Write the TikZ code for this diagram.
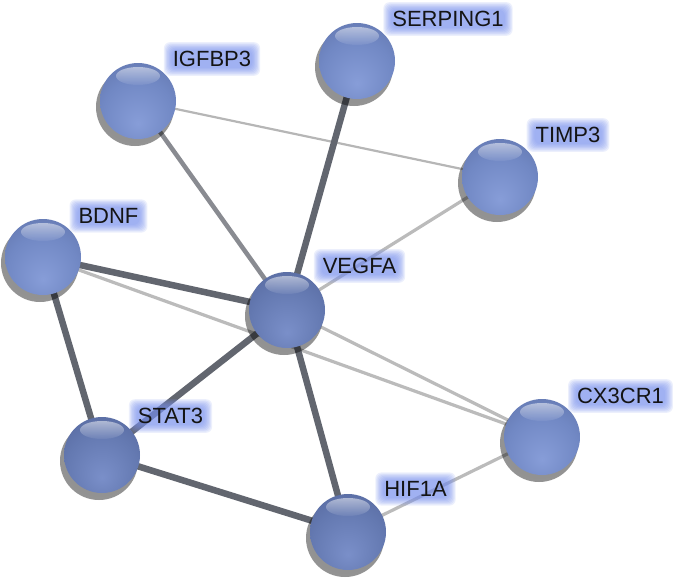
\documentclass[tikz,border=0pt]{standalone}
\usepackage{fontspec}
\newfontfamily\labfont{Liberation Sans}
\usetikzlibrary{fadings,calc}
\pgfdeclarelayer{edgelayer}
\pgfdeclarelayer{balllayer}
\pgfdeclarelayer{glowlayer}
\pgfsetlayers{edgelayer,balllayer,glowlayer,main}
\definecolor{strongc}{HTML}{62666F}
\definecolor{midc}{HTML}{898B91}
\definecolor{weakc}{HTML}{BBBBBB}
\definecolor{faintc}{HTML}{B6B6B6}
\definecolor{glowc}{HTML}{7890EC}
\definecolor{sA1}{HTML}{879DD8}
\definecolor{sA2}{HTML}{7188C4}
\definecolor{sA3}{HTML}{5D70A6}
\definecolor{sA4}{HTML}{485784}
\definecolor{sA5}{HTML}{323D5E}
\definecolor{sB1}{HTML}{7A8FC9}
\definecolor{sB2}{HTML}{6479B1}
\definecolor{sB3}{HTML}{526398}
\definecolor{sB4}{HTML}{3F4C76}
\definecolor{sB5}{HTML}{2C3552}
\pgfdeclareradialshading{sphA}{\pgfpoint{0bp}{-15bp}}{color(0bp)=(sA1); color(24bp)=(sA2); color(44bp)=(sA3); color(57bp)=(sA4); color(65bp)=(sA5)}
\pgfdeclareradialshading{sphB}{\pgfpoint{0bp}{-15bp}}{color(0bp)=(sB1); color(24bp)=(sB2); color(44bp)=(sB3); color(57bp)=(sB4); color(65bp)=(sB5)}
\pgfdeclareradialshading{discshade}{\pgfpointorigin}{color(0bp)=(pgftransparent!0); color(40bp)=(pgftransparent!10); color(50bp)=(pgftransparent!100)}
\pgfdeclarefading{softdisc}{\pgfuseshading{discshade}}
\tikzfading[name=hlfade, top color=transparent!50, bottom color=transparent!95]
\tikzset{
  sphere/.style={circle, minimum size=76pt, inner sep=0pt, shade},
  lab/.style={font=\labfont\fontsize{22}{24}\selectfont, inner sep=0pt, text=black!92},
  strong/.style={draw=strongc, line width=6.5pt},
  mid/.style={draw=midc, line width=4.5pt},
  weak/.style={draw=weakc, line width=3.2pt},
  faint/.style={draw=faintc, line width=2.2pt},
  glowfill/.style={fill=glowc, opacity=.14, rounded corners=6pt}
}
\newcommand\myball[4]{%
  \begin{pgfonlayer}{balllayer}
  \fill[black, opacity=.45, path fading=softdisc] (#2-3,#3+6) circle (39);
  \node[sphere, shading=#4] (#1) at (#2,#3) {};
  \fill[white, path fading=hlfade] ($(#1)+(0,-25)$) ellipse (22 and 9);
  \end{pgfonlayer}}
\newcommand\mylabel[4]{%
  \node[lab] (#1) at (#2,#3) {#4};
  \begin{pgfonlayer}{glowlayer}
  \foreach \k in {1,...,8}{
    \fill[glowfill] ([xshift=-1.1*\k pt, yshift=-1.1*\k pt]#1.south west) rectangle ([xshift=1.1*\k pt, yshift=1.1*\k pt]#1.north east);
  }
  \end{pgfonlayer}}
\begin{document}
\begin{tikzpicture}[x=1pt,y=-1pt]
\useasboundingbox (0,0) rectangle (680,582);
\myball{igfbp3}{138}{101}{sphA}
\myball{serping1}{357}{61}{sphA}
\myball{timp3}{500}{177}{sphA}
\myball{bdnf}{43}{257}{sphA}
\myball{vegfa}{287}{310}{sphB}
\myball{stat3}{102}{455}{sphB}
\myball{hif1a}{348}{532}{sphB}
\myball{cx3cr1}{542}{437}{sphA}
\mylabel{lIGFBP3}{212}{59}{IGFBP3}
\mylabel{lSERPING1}{448}{19}{SERPING1}
\mylabel{lTIMP3}{568}{135}{TIMP3}
\mylabel{lBDNF}{108.5}{216}{BDNF}
\mylabel{lVEGFA}{359.5}{266}{VEGFA}
\mylabel{lSTAT3}{170.5}{416}{STAT3}
\mylabel{lHIF1A}{415.5}{489}{HIF1A}
\mylabel{lCX3CR1}{620.5}{396}{CX3CR1}
\begin{pgfonlayer}{edgelayer}
\draw[faint] (igfbp3.center) -- (timp3.center);
\draw[weak] (timp3.center) -- (vegfa.center);
\draw[weak] (hif1a.center) -- (cx3cr1.center);
\draw[weak] (vegfa.center) -- (cx3cr1.center);
\draw[weak] (bdnf.center) -- (cx3cr1.center);
\draw[mid] (igfbp3.center) -- (vegfa.center);
\draw[strong] (serping1.center) -- (vegfa.center);
\draw[strong] (bdnf.center) -- (vegfa.center);
\draw[strong] (bdnf.center) -- (stat3.center);
\draw[strong] (vegfa.center) -- (stat3.center);
\draw[strong] (vegfa.center) -- (hif1a.center);
\draw[strong] (stat3.center) -- (hif1a.center);
\end{pgfonlayer}
\end{tikzpicture}
\end{document}
